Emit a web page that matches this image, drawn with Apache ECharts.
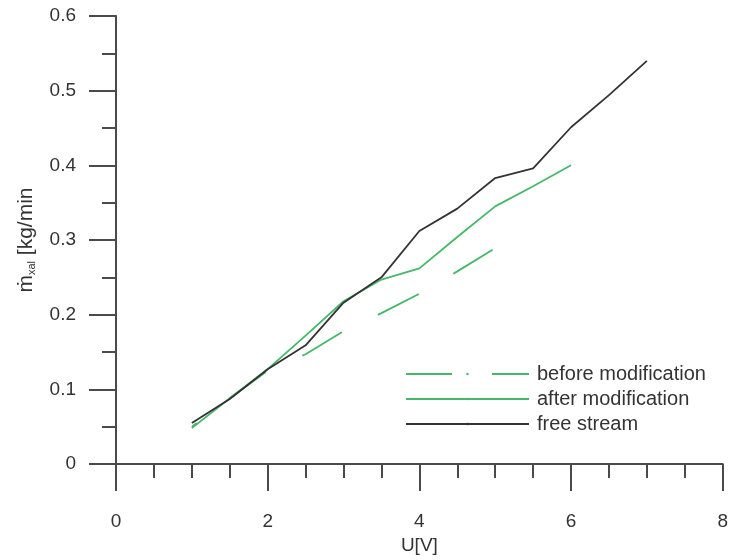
<!DOCTYPE html>
<html>
<head>
<meta charset="utf-8">
<script src="https://cdn.jsdelivr.net/npm/echarts@6/dist/echarts.min.js"></script>
<style>
html,body{margin:0;padding:0;background:#fff;}
#chart{width:731px;height:560px;}
</style>
</head>
<body>
<div id="chart"></div>
<script>
// Data
const seriesNames = ['before modification', 'after modification', 'free stream'];
const voltageBefore = [1, 1.5, 2, 2.5, 3, 3.5, 4, 4.5, 5];
const massBefore = [0.050, 0.088, 0.125, 0.147, 0.178, 0.202, 0.228, 0.258, 0.289];
const voltageAfter = [1, 1.5, 2, 2.5, 3, 3.5, 4, 4.5, 5, 5.5, 6];
const massAfter = [0.048, 0.088, 0.127, 0.172, 0.218, 0.247, 0.262, 0.304, 0.345, 0.372, 0.400];
const voltageFree = [1, 1.5, 2, 2.5, 3, 3.5, 4, 4.5, 5, 5.5, 6, 6.5, 7];
const massFree = [0.055, 0.087, 0.127, 0.159, 0.216, 0.250, 0.312, 0.342, 0.383, 0.396, 0.451, 0.494, 0.540];
const xTicks = [0, 2, 4, 6, 8];
const yTicks = [0, 0.1, 0.2, 0.3, 0.4, 0.5, 0.6];

const pairs = (xs, ys) => xs.map((x, i) => [x, ys[i]]);
const FONT = 'Liberation Sans, Arial, sans-serif';
const AXIS_COLOR = '#4a4a4a';
const GREEN = '#45b86a';

const chart = echarts.init(document.getElementById('chart'));
chart.setOption({
  animation: false,
  backgroundColor: '#ffffff',
  grid: { left: 116, right: 7, top: 16, bottom: 91, containLabel: false },
  xAxis: {
    type: 'value',
    min: xTicks[0], max: xTicks[xTicks.length - 1], interval: 2,
    name: 'U[V]',
    nameLocation: 'middle',
    nameGap: 72,
    nameTextStyle: { fontFamily: FONT, fontSize: 19, color: '#333' },
    axisLine: { show: true, onZero: false, lineStyle: { color: AXIS_COLOR, width: 2 } },
    axisTick: { show: true, inside: false, length: 27, lineStyle: { color: AXIS_COLOR, width: 2 } },
    minorTick: { show: true, splitNumber: 4, length: 14, lineStyle: { color: AXIS_COLOR, width: 2 } },
    axisLabel: { margin: 48, fontFamily: FONT, fontSize: 19, color: '#333', verticalAlign: 'top' },
    splitLine: { show: false }
  },
  yAxis: {
    type: 'value',
    min: yTicks[0], max: yTicks[yTicks.length - 1], interval: 0.1,
    name: '{m|ṁ}{s|xal} [kg/min',
    nameLocation: 'middle',
    nameGap: 79,
    nameRotate: 90,
    nameTextStyle: {
      fontFamily: FONT, fontSize: 21, color: '#333',
      rich: {
        m: { fontFamily: FONT, fontSize: 21, color: '#333' },
        s: { fontFamily: FONT, fontSize: 11, color: '#333', verticalAlign: 'bottom', padding: [9, 0, 0, 0] }
      }
    },
    axisLine: { show: true, onZero: false, lineStyle: { color: AXIS_COLOR, width: 2 } },
    axisTick: { show: true, inside: false, length: 27, lineStyle: { color: AXIS_COLOR, width: 2 } },
    minorTick: { show: true, splitNumber: 2, length: 14, lineStyle: { color: AXIS_COLOR, width: 2 } },
    axisLabel: {
      margin: 40, fontFamily: FONT, fontSize: 19, color: '#333',
      formatter: v => (v === 0 ? '0' : v.toFixed(1))
    },
    splitLine: { show: false }
  },
  legend: {
    orient: 'vertical',
    left: 400,
    top: 359,
    itemWidth: 123,
    itemHeight: 3,
    itemGap: 5,
    textStyle: { fontFamily: FONT, fontSize: 20, color: '#333', padding: [0, 0, 0, 3] },
    data: [
      { name: seriesNames[0], lineStyle: { dashOffset: 0 } },
      { name: seriesNames[1] },
      { name: seriesNames[2] }
    ]
  },
  series: [
    {
      name: seriesNames[0], type: 'line', symbol: 'none', smooth: false,
      data: pairs(voltageBefore, massBefore),
      lineStyle: { color: GREEN, width: 1.8, type: [46, 40], dashOffset: 40 },
      itemStyle: { color: GREEN }
    },
    {
      name: seriesNames[1], type: 'line', symbol: 'none', smooth: false,
      data: pairs(voltageAfter, massAfter),
      lineStyle: { color: GREEN, width: 1.8 },
      itemStyle: { color: GREEN }
    },
    {
      name: seriesNames[2], type: 'line', symbol: 'none', smooth: false,
      data: pairs(voltageFree, massFree),
      lineStyle: { color: '#333333', width: 1.8 },
      itemStyle: { color: '#333333' }
    }
  ]
});
</script>
</body>
</html>
